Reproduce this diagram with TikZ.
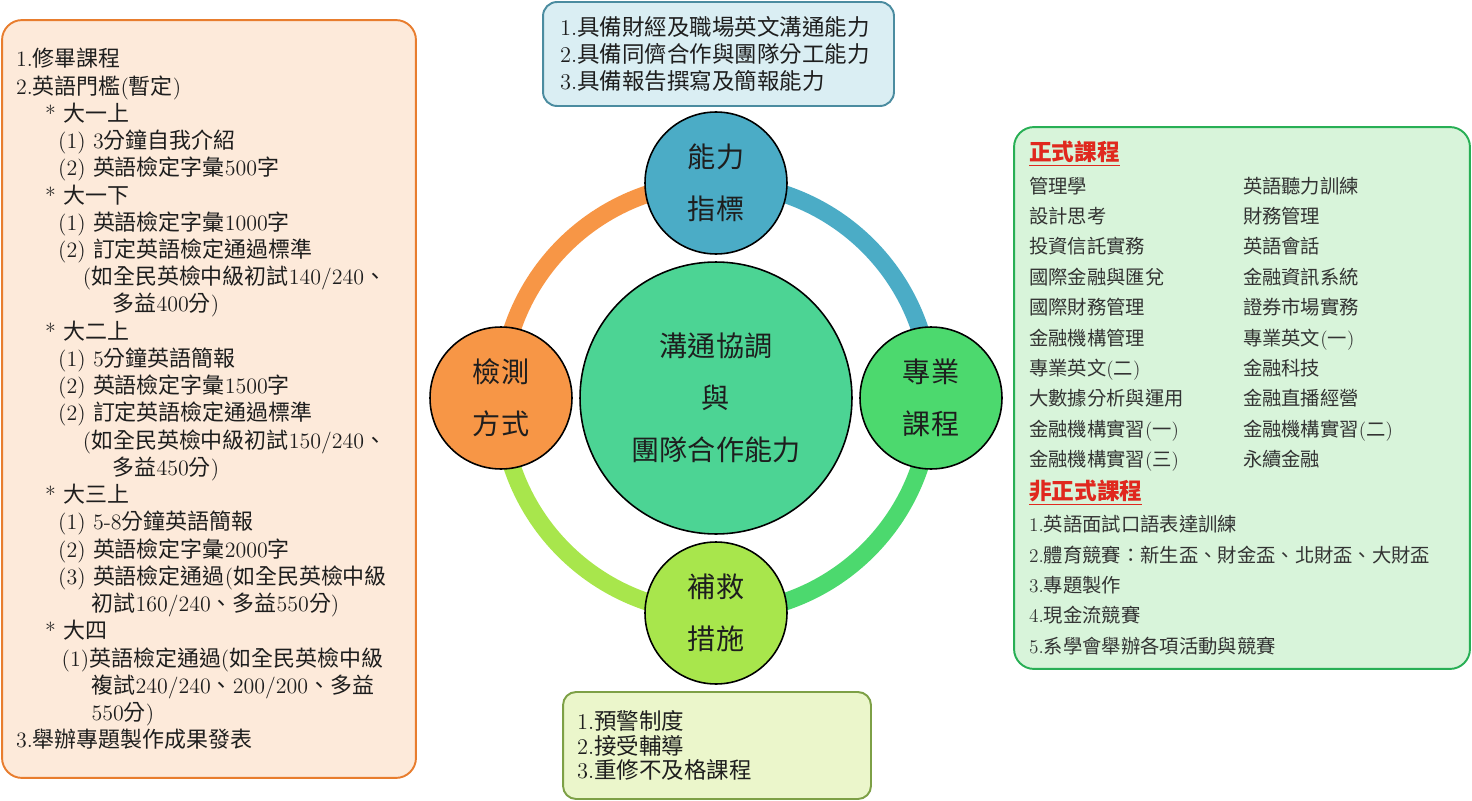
\documentclass[tikz,border=0pt]{standalone}
\usepackage{fontspec}
\usetikzlibrary{backgrounds}
\newfontfamily\cjk{Noto Sans CJK TC}
% CJK runs switch to the CJK face on their own
\XeTeXinterchartokenstate=1
\newXeTeXintercharclass\cjkclass
\newcount\cjkcode
\def\setcjkrange#1#2{\cjkcode=#1\relax
  \loop\XeTeXcharclass\cjkcode=\cjkclass
  \ifnum\cjkcode<#2 \advance\cjkcode by 1 \repeat}
\setcjkrange{"3000}{"303F}
\setcjkrange{"3400}{"4DBF}
\setcjkrange{"4E00}{"9FFF}
\setcjkrange{"FF00}{"FFEF}
\XeTeXinterchartoks 0 \cjkclass = {\begingroup\cjk}
\XeTeXinterchartoks 4095 \cjkclass = {\begingroup\cjk}
\XeTeXinterchartoks \cjkclass 0 = {\endgroup}
\XeTeXinterchartoks \cjkclass 4095 = {\endgroup}

\definecolor{hubblue}{RGB}{75,172,198}
\definecolor{hubcore}{RGB}{76,212,148}
\definecolor{hubgreen}{RGB}{76,217,110}
\definecolor{hublime}{RGB}{168,230,76}
\definecolor{huborange}{RGB}{247,150,70}
\definecolor{planpeach}{RGB}{253,234,218}
\definecolor{planpeachline}{RGB}{232,125,46}
\definecolor{planblue}{RGB}{218,238,243}
\definecolor{planblueline}{RGB}{75,140,160}
\definecolor{planmint}{RGB}{216,244,218}
\definecolor{planmintline}{RGB}{40,175,85}
\definecolor{planlime}{RGB}{235,246,203}
\definecolor{planlimeline}{RGB}{125,160,70}
\definecolor{planred}{RGB}{224,40,30}
\definecolor{plandark}{RGB}{30,30,30}
\tikzset{
  plan box/.style={
    draw,
    rounded corners=0.4cm,
    line width=1.1pt,
    align=left,
    inner ysep=0pt,
    text=plandark,
  },
  hub/.style={
    circle,
    draw=black,
    line width=0.9pt,
    align=center,
    inner sep=0pt,
    text=plandark,
    font=\fontsize{16}{29.6}\selectfont,
  },
  ring seg/.style={line width=0.35cm},
}
\newcommand{\yrind}{\hspace*{16.5pt}}
\newcommand{\itind}{\hspace*{24pt}}
\newcommand{\noteind}{\hspace*{38pt}}
\newcommand{\tailind}{\hspace*{55pt}}
\newcommand{\wrapind}{\hspace*{43pt}}
\newcommand{\courserow}[2]{\makebox[4.28cm][l]{#1}#2}
\newcommand{\planhead}[1]{{\fontsize{12.9}{17.3}\selectfont\bfseries\color{planred}\underline{#1}}}

\begin{document}
\begin{tikzpicture}[x=0.02cm,y=0.02cm]
  \useasboundingbox (0,0) rectangle (1472,-801);

  % Hubs
  \node[hub, fill=hubcore, minimum size=5.44cm] (core) at (716,-398) {溝通協調\\與\\團隊合作能力};
  \node[hub, fill=hubblue, minimum size=2.84cm] (abil) at (716,-183) {能力\\指標};
  \node[hub, fill=hubgreen, minimum size=2.84cm] (prof) at (931,-398) {專業\\課程};
  \node[hub, fill=hublime, minimum size=2.84cm] (remedy) at (716,-613) {補救\\措施};
  \node[hub, fill=huborange, minimum size=2.84cm] (assess) at (501,-398) {檢測\\方式};

  % Ring behind the hubs
  \begin{pgfonlayer}{background}
    \draw[ring seg, hubblue] (abil.center) to[out=0,in=90] (prof.center);
    \draw[ring seg, hubgreen] (prof.center) to[out=-90,in=0] (remedy.center);
    \draw[ring seg, hublime] (remedy.center) to[out=180,in=-90] (assess.center);
    \draw[ring seg, huborange] (assess.center) to[out=90,in=180] (abil.center);
  \end{pgfonlayer}

  % Assessment panel
  \node[plan box, draw=planpeachline, fill=planpeach, text width=7.72cm, inner xsep=0.28cm,
    minimum height=15.16cm, font=\fontsize{12.5}{15.5}\selectfont] (assessbox) at (209,-399)
    {1.修畢課程\\
     2.英語門檻(暫定)\\
     \yrind{}* 大一上\\
     \itind{}(1) 3分鐘自我介紹\\
     \itind{}(2) 英語檢定字彙500字\\
     \yrind{}* 大一下\\
     \itind{}(1) 英語檢定字彙1000字\\
     \itind{}(2) 訂定英語檢定通過標準\\
     \noteind{}(如全民英檢中級初試140/240、\\
     \tailind{}多益400分)\\
     \yrind{}* 大二上\\
     \itind{}(1) 5分鐘英語簡報\\
     \itind{}(2) 英語檢定字彙1500字\\
     \itind{}(2) 訂定英語檢定通過標準\\
     \noteind{}(如全民英檢中級初試150/240、\\
     \tailind{}多益450分)\\
     \yrind{}* 大三上\\
     \itind{}(1) 5-8分鐘英語簡報\\
     \itind{}(2) 英語檢定字彙2000字\\
     \itind{}(3) 英語檢定通過(如全民英檢中級\\
     \wrapind{}初試160/240、多益550分)\\
     \yrind{}* 大四\\
     \hspace*{26pt}(1)英語檢定通過(如全民英檢中級\\
     \wrapind{}複試240/240、200/200、多益\\
     \wrapind{}550分)\\
     3.舉辦專題製作成果發表};

  % Ability panel
  \node[plan box, draw=planblueline, fill=planblue, rounded corners=0.28cm, text width=6.34cm,
    inner xsep=0.34cm, minimum height=2.08cm, font=\fontsize{12.8}{15.1}\selectfont] (abilbox) at (718.5,-54)
    {1.具備財經及職場英文溝通能力\\
     2.具備同儕合作與團隊分工能力\\
     3.具備報告撰寫及簡報能力};

  % Course panel
  \node[plan box, draw=planmintline, fill=planmint, text width=8.52cm, inner xsep=0.3cm,
    minimum height=10.84cm, font=\fontsize{11}{17.3}\selectfont, text=black!80] (profbox) at (1242,-398)
    {\planhead{正式課程}\\[1.2pt]
     \courserow{管理學}{英語聽力訓練}\\
     \courserow{設計思考}{財務管理}\\
     \courserow{投資信託實務}{英語會話}\\
     \courserow{國際金融與匯兌}{金融資訊系統}\\
     \courserow{國際財務管理}{證券市場實務}\\
     \courserow{金融機構管理}{專業英文(一)}\\
     \courserow{專業英文(二)}{金融科技}\\
     \courserow{大數據分析與運用}{金融直播經營}\\
     \courserow{金融機構實習(一)}{金融機構實習(二)}\\
     \courserow{金融機構實習(三)}{永續金融}\\[1.2pt]
     \planhead{非正式課程}\\[1.2pt]
     1.英語面試口語表達訓練\\
     2.體育競賽：新生盃、財金盃、北財盃、大財盃\\
     3.專題製作\\
     4.現金流競賽\\
     5.系學會舉辦各項活動與競賽};

  % Remedy panel
  \node[plan box, draw=planlimeline, fill=planlime, rounded corners=0.26cm, text width=5.6cm,
    inner xsep=0.28cm, minimum height=2.14cm, font=\fontsize{12.8}{14.2}\selectfont] (remedybox) at (717,-745.5)
    {1.預警制度\\
     2.接受輔導\\
     3.重修不及格課程};
\end{tikzpicture}
\end{document}
